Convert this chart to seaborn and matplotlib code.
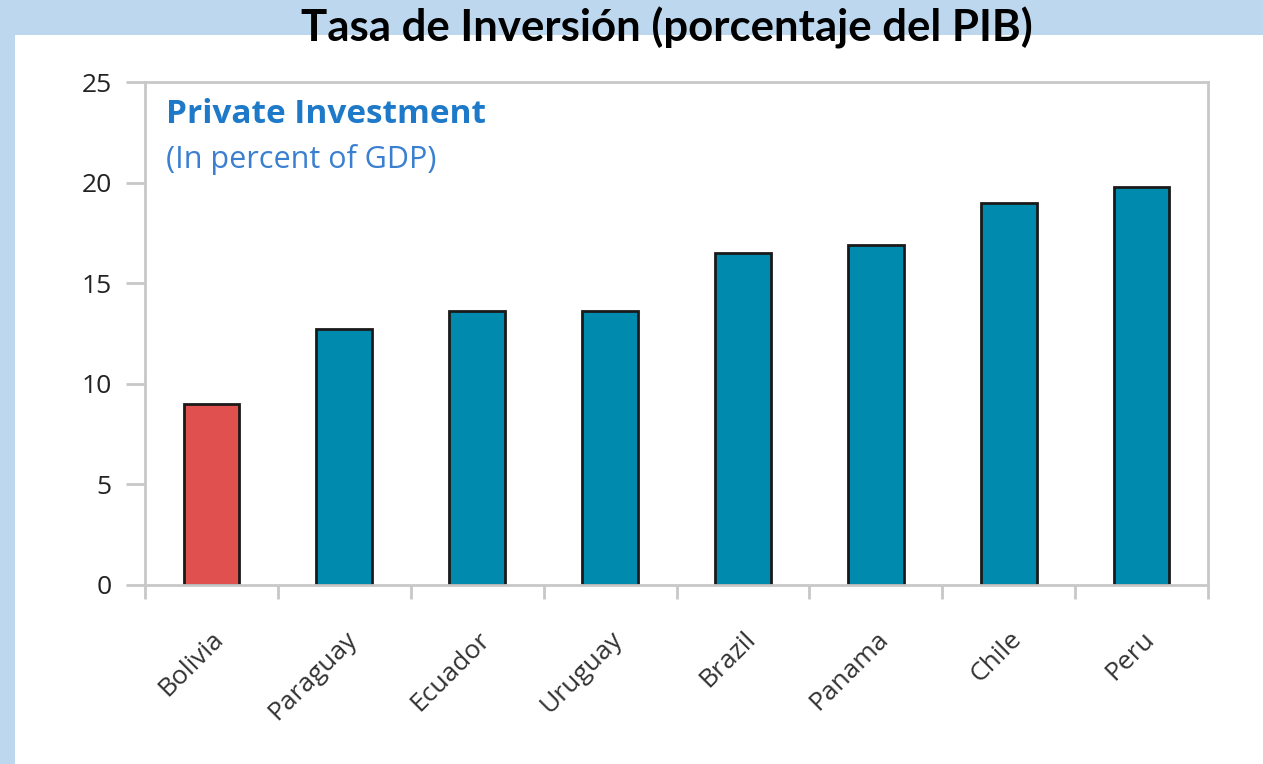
import matplotlib.pyplot as plt
import seaborn as sns
import pandas as pd
from matplotlib.patches import Rectangle

# datos
countries = ["Bolivia", "Paraguay", "Ecuador", "Uruguay", "Brazil", "Panama", "Chile", "Peru"]
investment = [9.0, 12.7, 13.6, 13.6, 16.5, 16.9, 19.0, 19.8]
bar_colors = ["#E0504E", "#008AAE", "#008AAE", "#008AAE", "#008AAE", "#008AAE", "#008AAE", "#008AAE"]
y_ticks = [0, 5, 10, 15, 20, 25]

df = pd.DataFrame({"country": countries, "value": investment})

sns.set_theme(style="white")
plt.rcParams['font.family'] = ['Open Sans', 'DejaVu Sans']

fig = plt.figure(figsize=(12.63, 7.64), dpi=100, facecolor="#BDD7EE")
# panel blanco
fig.patches.append(Rectangle((15 / 1263, 0), 1, (764 - 35) / 764, transform=fig.transFigure,
                             facecolor="white", edgecolor="none", zorder=-5))

ax = fig.add_axes([145 / 1263, 1 - 585 / 764, (1208 - 145) / 1263, (585 - 82) / 764])
ax.set_facecolor("none")
ax.set_zorder(2)
sns.barplot(data=df, x="country", y="value", hue="country", palette=bar_colors, saturation=1,
            legend=False, width=0.42, edgecolor="#1a1a1a", linewidth=2, ax=ax)

ax.set_ylim(0, 25)
ax.set_xlim(-0.5, len(countries) - 0.5)
ax.set_yticks(y_ticks)
ax.set_xlabel("")
ax.set_ylabel("")
for s in ax.spines.values():
    s.set_color("#C8C8C8")
    s.set_linewidth(2)

ax.tick_params(axis="y", left=True, length=14, width=2, color="#C8C8C8", labelsize=19, pad=10,
               labelcolor="#222222")
ax.set_xticks(range(len(countries)))
ax.set_xticklabels(countries, rotation=45, ha="right", rotation_mode="anchor", fontsize=19, color="#333333")
ax.tick_params(axis="x", length=0, pad=30)
ax.set_xticks([i + 0.5 for i in range(-1, len(countries))], minor=True)
ax.tick_params(axis="x", which="minor", bottom=True, length=10, width=2, color="#C8C8C8")

ax.text(0.02, 0.935, "Private Investment", transform=ax.transAxes, fontsize=24,
        fontweight="bold", color="#1E7AC8", va="center")
ax.text(0.02, 0.845, "(In percent of GDP)", transform=ax.transAxes, fontsize=22,
        color="#3A7FD0", va="center")

fig.text(0.528, 0.963, "Tasa de Inversión (porcentaje del PIB)", ha="center", va="center",
         fontsize=31.5, fontweight="bold", color="black", family=["Lato", "DejaVu Sans"], zorder=5)

fig.savefig("out.png", dpi=100, facecolor=fig.get_facecolor())
